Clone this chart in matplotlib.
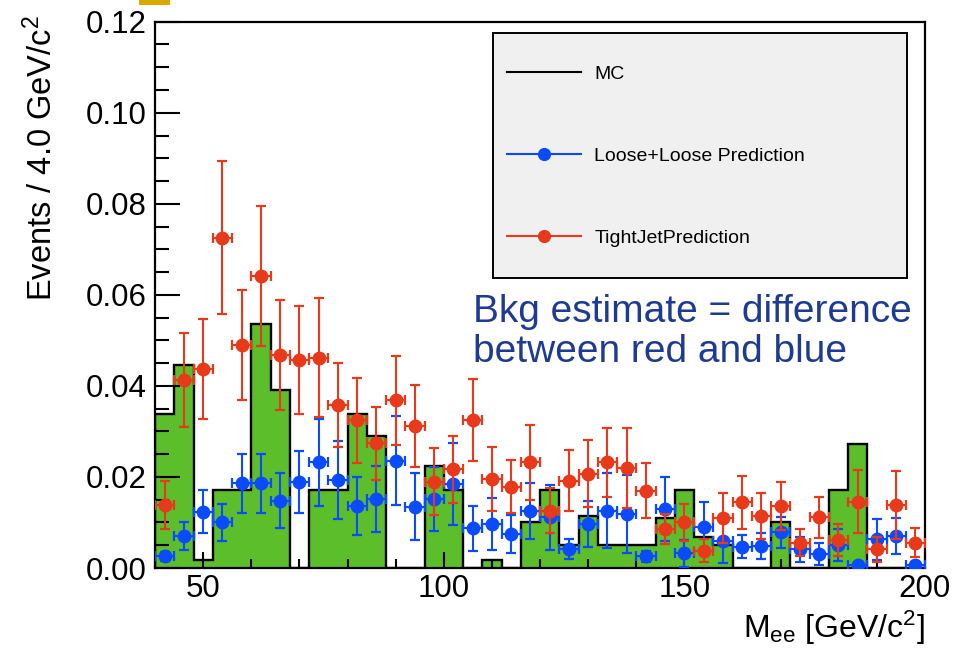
import numpy as np
import matplotlib
matplotlib.use("Agg")
import matplotlib.pyplot as plt
from matplotlib.ticker import MultipleLocator, FormatStrFormatter
from matplotlib.lines import Line2D
from matplotlib.patches import Rectangle

plt.rcParams['font.family'] = ['Liberation Sans', 'DejaVu Sans']
plt.rcParams['mathtext.fontset'] = 'custom'
plt.rcParams['mathtext.rm'] = 'Liberation Sans'
plt.rcParams['mathtext.it'] = 'Liberation Sans:italic'

# ---- data: 40 bins of 4 GeV from 40 to 200 ----
bin_low = 40
bin_high = 200
bin_width = 4

mc_values = [0.0338, 0.0446, 0.0018, 0.0171, 0.0171, 0.0536, 0.0391, 0.0, 0.0171, 0.0171,
             0.0338, 0.0289, 0.0, 0.0, 0.0223, 0.0171, 0.0, 0.0018, 0.0, 0.0102,
             0.0171, 0.0051, 0.0114, 0.0051, 0.0051, 0.0051, 0.0109, 0.0171, 0.0067, 0.0051,
             0.0, 0.0, 0.0102, 0.0, 0.0, 0.0171, 0.0273, 0.0, 0.0, 0.0]

tight_values = [0.0138, 0.0413, 0.0437, 0.0725, 0.0490, 0.0642, 0.0468, 0.0457, 0.0462, 0.0358,
                0.0324, 0.0274, 0.0368, 0.0311, 0.0190, 0.0217, 0.0325, 0.0195, 0.0179, 0.0232,
                0.0126, 0.0192, 0.0207, 0.0232, 0.0220, 0.0170, 0.0085, 0.0100, 0.0038, 0.0109,
                0.0144, 0.0114, 0.0136, 0.0056, 0.0111, 0.0062, 0.0146, 0.0041, 0.0138, 0.0056]
tight_errors = [0.0053, 0.0104, 0.0110, 0.0168, 0.0120, 0.0154, 0.0120, 0.0118, 0.0130, 0.0092,
                0.0093, 0.0080, 0.0098, 0.0090, 0.0073, 0.0074, 0.0090, 0.0070, 0.0058, 0.0082,
                0.0050, 0.0067, 0.0074, 0.0075, 0.0088, 0.0060, 0.0033, 0.0040, 0.0025, 0.0055,
                0.0058, 0.0050, 0.0052, 0.0030, 0.0045, 0.0035, 0.0070, 0.0027, 0.0075, 0.0032]

loose_values = [0.0026, 0.0070, 0.0124, 0.0100, 0.0186, 0.0186, 0.0148, 0.0188, 0.0232, 0.0193,
                0.0136, 0.0151, 0.0236, 0.0135, 0.0151, 0.0184, 0.0087, 0.0097, 0.0075, 0.0125,
                0.0111, 0.0041, 0.0097, 0.0126, 0.0119, 0.0026, 0.0129, 0.0032, 0.0091, 0.0060,
                0.0047, 0.0048, 0.0078, 0.0041, 0.0031, 0.0051, 0.0007, 0.0063, 0.0070, 0.0007]
loose_errors = [0.0010, 0.0030, 0.0047, 0.0040, 0.0065, 0.0065, 0.0060, 0.0068, 0.0095, 0.0085,
                0.0063, 0.0073, 0.0098, 0.0073, 0.0070, 0.0090, 0.0050, 0.0057, 0.0042, 0.0062,
                0.0072, 0.0022, 0.0050, 0.0083, 0.0085, 0.0012, 0.0070, 0.0030, 0.0054, 0.0050,
                0.0025, 0.0028, 0.0035, 0.0027, 0.0025, 0.0035, 0.0005, 0.0045, 0.0040, 0.0005]

legend_labels = ["MC", "Loose+Loose Prediction", "TightJetPrediction"]
annotation = "Bkg estimate = difference\nbetween red and blue"
xlabel = r"M$_{\mathrm{ee}}$ [GeV/c$^{\mathrm{2}}$]"
ylabel = r"Events / 4.0 GeV/c$^{\mathrm{2}}$"

edges = np.arange(bin_low, bin_high + bin_width, bin_width)
centers = 0.5 * (edges[:-1] + edges[1:])

green = '#5CBE2B'
blue = '#0A4BFF'
red = '#E8391A'

fig = plt.figure(figsize=(9.56, 6.49), dpi=100)
W, H = 956, 649
ax_l, ax_r, ax_t, ax_b = 155, 925, 21.7, 568
ax = fig.add_axes([ax_l / W, 1 - ax_b / H, (ax_r - ax_l) / W, (ax_b - ax_t) / H])

ax.stairs(mc_values, edges, fill=True, color=green, lw=0, zorder=1)
ax.stairs(mc_values, edges, color='black', lw=1.7, zorder=2)

ax.errorbar(centers, loose_values, yerr=loose_errors, xerr=bin_width / 2, fmt='o',
            color=blue, ms=9, elinewidth=1.5, capsize=3.8, capthick=1.6, zorder=3)
ax.errorbar(centers, tight_values, yerr=tight_errors, xerr=bin_width / 2, fmt='o',
            color=red, ms=9, elinewidth=1.5, capsize=3.8, capthick=1.6, zorder=4)

ax.set_xlim(bin_low, bin_high)
ax.set_ylim(0, 0.12)

ax.xaxis.set_major_locator(MultipleLocator(50))
ax.xaxis.set_minor_locator(MultipleLocator(10))
ax.yaxis.set_major_locator(MultipleLocator(0.02))
ax.yaxis.set_minor_locator(MultipleLocator(0.005))
ax.yaxis.set_major_formatter(FormatStrFormatter('%.2f'))

ax.tick_params(axis='x', which='major', direction='in', length=11.5, width=1.5,
               labelsize=22.5, pad=4, top=False)
ax.tick_params(axis='x', which='minor', direction='in', length=6.5, width=1.5, top=False)
ax.tick_params(axis='y', which='major', direction='in', length=18, width=1.5,
               labelsize=22.5, pad=6, right=False)
ax.tick_params(axis='y', which='minor', direction='in', length=10, width=1.5, right=False)
for s in ax.spines.values():
    s.set_linewidth(1.6)

ax.set_ylabel(ylabel, fontsize=23.5, loc='top')
ax.yaxis.set_label_coords(-0.124, 1.012)
ax.set_xlabel(xlabel, fontsize=23, loc='right')
ax.xaxis.set_label_coords(1.0, -0.074)

# legend box
def px_to_ax(px, py):
    return (px - ax_l) / (ax_r - ax_l), (ax_b - py) / (ax_b - ax_t)

bx0, by0 = px_to_ax(492.7, 278)
bx1, by1 = px_to_ax(907, 33.3)
ax.add_patch(Rectangle((bx0, by0), bx1 - bx0, by1 - by0, transform=ax.transAxes,
                       facecolor='#F0F0F0', edgecolor='black', lw=1.4, zorder=5))
handles = [Line2D([], [], color='black', lw=1.5),
           Line2D([], [], color=blue, lw=1.5, marker='o', ms=8.5),
           Line2D([], [], color=red, lw=1.5, marker='o', ms=8.5)]
lx, ly = px_to_ax(507, 65)
leg = ax.legend(handles, legend_labels, loc='upper left', bbox_to_anchor=(lx, ly),
                frameon=False, fontsize=14, handlelength=3.8, handletextpad=0.7,
                labelspacing=3.32, borderpad=0, borderaxespad=0)
leg.set_zorder(6)

fig.text(473 / W, 1 - 362 / H, annotation, fontsize=28, color='#1F3A93',
         ha='left', va='baseline', linespacing=1.13)

fig.add_artist(Rectangle((139 / W, 1 - 5 / H), 31 / W, 5 / H, transform=fig.transFigure,
                         facecolor='#D9A900', edgecolor='none'))

fig.savefig('out.png', dpi=100)
